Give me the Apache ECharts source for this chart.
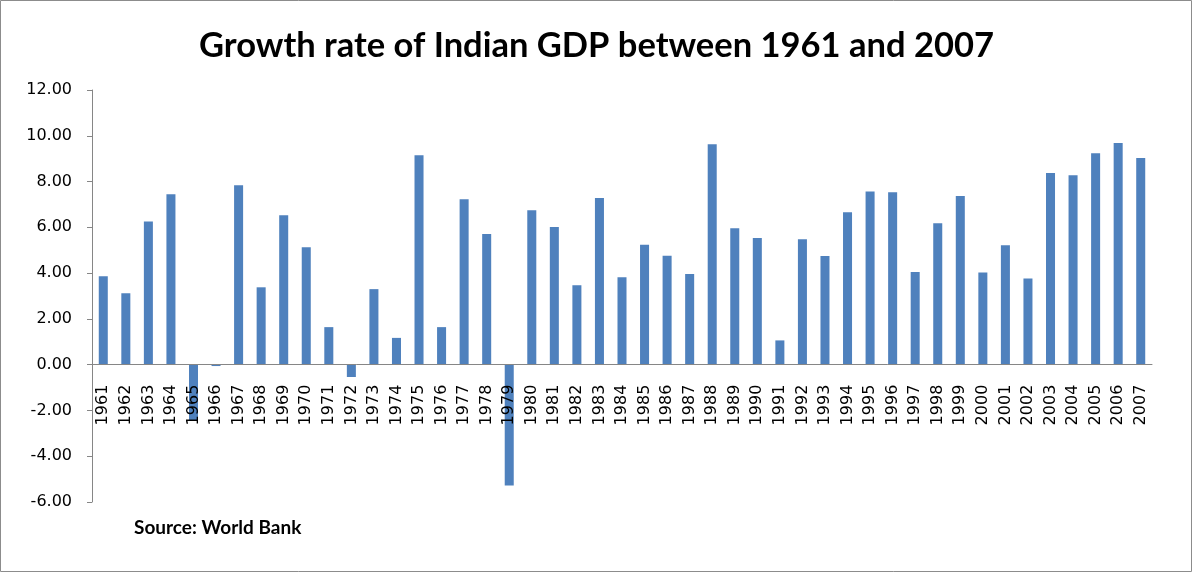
<!DOCTYPE html>
<html><head><meta charset="utf-8">
<script src="https://cdn.jsdelivr.net/npm/echarts@6/dist/echarts.min.js"></script>
<style>html,body{margin:0;padding:0;background:#fff}#c{width:1193px;height:573px}</style>
</head><body><div id="c"></div>
<script>
const years = [1961,1962,1963,1964,1965,1966,1967,1968,1969,1970,1971,1972,1973,1974,1975,1976,1977,1978,1979,1980,1981,1982,1983,1984,1985,1986,1987,1988,1989,1990,1991,1992,1993,1994,1995,1996,1997,1998,1999,2000,2001,2002,2003,2004,2005,2006,2007].map(String);
const growth = [3.86,3.12,6.26,7.44,-2.45,-0.06,7.84,3.38,6.53,5.13,1.64,-0.54,3.30,1.17,9.15,1.64,7.23,5.71,-5.28,6.75,6.01,3.47,7.28,3.82,5.24,4.76,3.96,9.63,5.96,5.53,1.06,5.48,4.75,6.66,7.57,7.53,4.05,6.18,7.37,4.03,5.22,3.77,8.37,8.28,9.24,9.68,9.03];
const yMin = -6, yMax = 12, yStep = 2;
const titleText = 'Growth rate of Indian GDP between 1961 and 2007';
const sourceText = 'Source: World Bank';
const gridTop = 90, gridBottom = 71, H = 573;
const plotH = H - gridTop - gridBottom;
const zeroOffset = -plotH * (0 - yMin) / (yMax - yMin);
const chart = echarts.init(document.getElementById('c'), null, {renderer:'canvas'});
chart.setOption({
  animation:false,
  title:{text:titleText,left:'center',top:23,textStyle:{fontFamily:'Lato',fontWeight:'bold',fontSize:34.5,color:'#000'}},
  graphic:[
    {type:'rect',shape:{x:0.5,y:0.5,width:1191,height:571},style:{fill:'none',stroke:'#8c8c8c',lineWidth:1}},
    {type:'text',left:134,top:518,style:{text:sourceText,font:'bold 19px Lato',fill:'#000'}}
  ],
  grid:{left:92,right:41,top:gridTop,bottom:gridBottom,containLabel:false},
  xAxis:{type:'category',data:years,offset:zeroOffset,z:5,
    axisLine:{onZero:false,lineStyle:{color:'#868686',width:1}},
    axisTick:{show:false},
    axisLabel:{rotate:90,margin:20,fontFamily:'DejaVu Sans',fontSize:16,color:'#000',interval:0}},
  yAxis:{type:'value',min:yMin,max:yMax,interval:yStep,
    axisLine:{show:true,lineStyle:{color:'#868686'}},
    axisTick:{show:true,length:5,lineStyle:{color:'#868686'}},
    splitLine:{show:false},
    axisLabel:{margin:20,fontFamily:'DejaVu Sans',fontSize:16,color:'#000',formatter:v=>v.toFixed(2)}},
  series:[{type:'bar',data:growth,barWidth:'40%',itemStyle:{color:'#4F81BD'},z:1}]
});
</script></body></html>
